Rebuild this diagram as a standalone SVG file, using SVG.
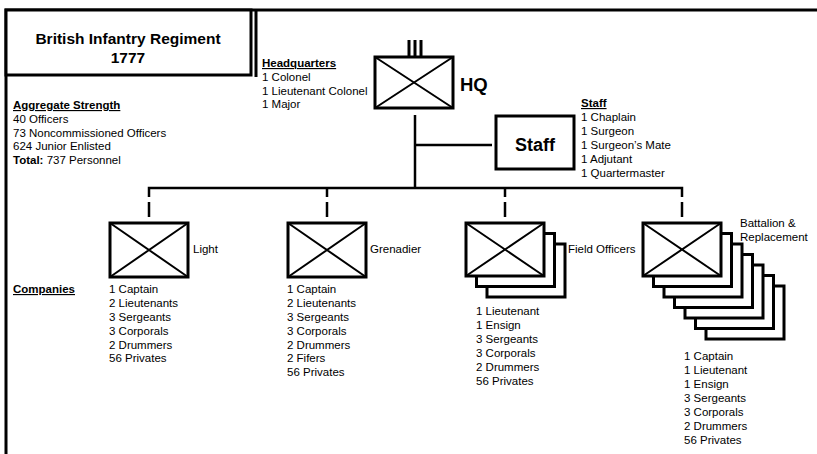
<svg xmlns="http://www.w3.org/2000/svg" width="817" height="454" viewBox="0 0 817 454">
<defs>
<style>
.t{font-family:"Liberation Sans",Arial,sans-serif;font-size:11.5px;fill:#000}
.b{font-weight:bold}
.u{text-decoration:underline}
.box{fill:#fff;stroke:#000;stroke-width:3}
.x{stroke:#000;stroke-width:2;fill:none}
.c{stroke:#000;stroke-width:2.5;fill:none}
.f{stroke:#000;stroke-width:3;fill:none}
</style>
</defs>
<rect width="817" height="454" fill="#fff"/>
<g id="frame">
<path class="f" d="M6,454 V10 H817"/>
<line class="f" x1="256" y1="10" x2="256" y2="77"/>
</g>
<g id="title">
<rect class="box" x="6" y="10" width="245" height="65"/>
<text class="t b" x="128" y="44" text-anchor="middle" style="font-size:15.5px">British Infantry Regiment</text>
<text class="t b" x="128" y="63" text-anchor="middle" style="font-size:15.5px">1777</text>
</g>
<g id="aggregate">
<text class="t b u" x="13" y="109">Aggregate Strength</text>
<text class="t" x="13" y="123">40 Officers</text>
<text class="t" x="13" y="137">73 Noncommissioned Officers</text>
<text class="t" x="13" y="150">624 Junior Enlisted</text>
<text class="t" x="13" y="164"><tspan class="b">Total:</tspan> 737 Personnel</text>
</g>
<g id="connectors">
<line class="c" x1="415" y1="115" x2="415" y2="188"/>
<line class="c" x1="415" y1="145" x2="492" y2="145"/>
<path class="c" d="M149,197 V188 H682 V197"/>
<line class="c" x1="327" y1="188" x2="327" y2="197"/>
<line class="c" x1="505" y1="188" x2="505" y2="197"/>
<line class="c" x1="149" y1="202" x2="149" y2="217"/>
<line class="c" x1="327" y1="202" x2="327" y2="217"/>
<line class="c" x1="505" y1="202" x2="505" y2="217"/>
<line class="c" x1="682" y1="202" x2="682" y2="217"/>
</g>
<g id="hq">
<line class="f" x1="409" y1="40" x2="409" y2="56"/>
<line class="f" x1="415" y1="40" x2="415" y2="56"/>
<line class="f" x1="421" y1="40" x2="421" y2="56"/>
<rect class="box" x="375" y="57" width="78" height="51"/>
<path class="x" d="M375,57 L453,108 M453,57 L375,108"/>
<text class="t b" x="460" y="91" style="font-size:18.5px">HQ</text>
<text class="t b u" x="262" y="67">Headquarters</text>
<text class="t" x="262" y="81">1 Colonel</text>
<text class="t" x="262" y="95">1 Lieutenant Colonel</text>
<text class="t" x="262" y="108">1 Major</text>
</g>
<g id="staff">
<rect class="box" x="496" y="116" width="78" height="53"/>
<text class="t b" x="535" y="151" text-anchor="middle" style="font-size:18px">Staff</text>
<text class="t b u" x="581" y="107">Staff</text>
<text class="t" x="581" y="121">1 Chaplain</text>
<text class="t" x="581" y="135">1 Surgeon</text>
<text class="t" x="581" y="149">1 Surgeon’s Mate</text>
<text class="t" x="581" y="163">1 Adjutant</text>
<text class="t" x="581" y="177">1 Quartermaster</text>
</g>
<g id="companies-label">
<text class="t b u" x="13" y="293">Companies</text>
</g>
<g id="light">
<rect class="box" x="110" y="223" width="78" height="54"/>
<path class="x" d="M110,223 L188,277 M188,223 L110,277"/>
<text class="t" x="193" y="253">Light</text>
<text class="t" x="109" y="293">1 Captain</text>
<text class="t" x="109" y="307">2 Lieutenants</text>
<text class="t" x="109" y="321">3 Sergeants</text>
<text class="t" x="109" y="335">3 Corporals</text>
<text class="t" x="109" y="349">2 Drummers</text>
<text class="t" x="109" y="362">56 Privates</text>
</g>
<g id="grenadier">
<rect class="box" x="288" y="223" width="78" height="54"/>
<path class="x" d="M288,223 L366,277 M366,223 L288,277"/>
<text class="t" x="370" y="253">Grenadier</text>
<text class="t" x="287" y="293">1 Captain</text>
<text class="t" x="287" y="307">2 Lieutenants</text>
<text class="t" x="287" y="321">3 Sergeants</text>
<text class="t" x="287" y="335">3 Corporals</text>
<text class="t" x="287" y="349">2 Drummers</text>
<text class="t" x="287" y="362">2 Fifers</text>
<text class="t" x="287" y="376">56 Privates</text>
</g>
<g id="field-officers">
<rect class="box" x="487" y="244" width="78" height="53"/>
<rect class="box" x="476.5" y="233.5" width="78" height="53"/>
<rect class="box" x="466" y="223" width="78" height="53"/>
<path class="x" d="M466,223 L544,276 M544,223 L466,276"/>
<text class="t" x="568" y="253">Field Officers</text>
<text class="t" x="476" y="315">1 Lieutenant</text>
<text class="t" x="476" y="329">1 Ensign</text>
<text class="t" x="476" y="343">3 Sergeants</text>
<text class="t" x="476" y="357">3 Corporals</text>
<text class="t" x="476" y="371">2 Drummers</text>
<text class="t" x="476" y="385">56 Privates</text>
</g>
<g id="battalion">
<rect class="box" x="706" y="286" width="78" height="53"/>
<rect class="box" x="695.5" y="275.5" width="78" height="53"/>
<rect class="box" x="685" y="265" width="78" height="53"/>
<rect class="box" x="674.5" y="254.5" width="78" height="53"/>
<rect class="box" x="664" y="244" width="78" height="53"/>
<rect class="box" x="653.5" y="233.5" width="78" height="53"/>
<rect class="box" x="643" y="223" width="78" height="53"/>
<path class="x" d="M643,223 L721,276 M721,223 L643,276"/>
<text class="t" x="740" y="227">Battalion &amp;</text>
<text class="t" x="740" y="241">Replacement</text>
<text class="t" x="684" y="360">1 Captain</text>
<text class="t" x="684" y="374">1 Lieutenant</text>
<text class="t" x="684" y="388">1 Ensign</text>
<text class="t" x="684" y="402">3 Sergeants</text>
<text class="t" x="684" y="416">3 Corporals</text>
<text class="t" x="684" y="430">2 Drummers</text>
<text class="t" x="684" y="444">56 Privates</text>
</g>
</svg>
